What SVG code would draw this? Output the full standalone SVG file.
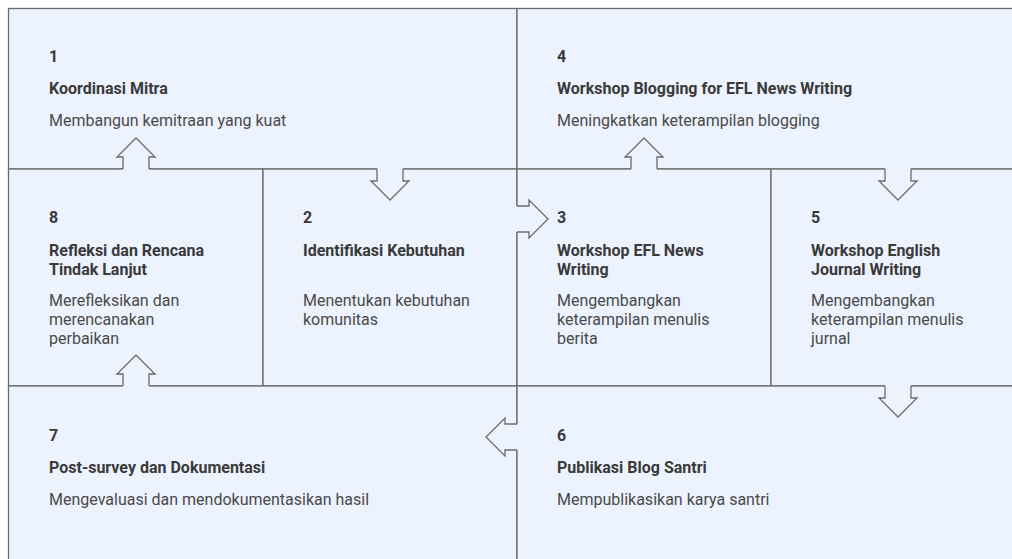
<svg xmlns="http://www.w3.org/2000/svg" width="1012" height="559" viewBox="0 0 1012 559">
<style>
.cell{fill:#ecf2fe;stroke:#6b6b6b;stroke-width:1.3}
.num{font-family:Roboto,"Liberation Sans",sans-serif;font-size:16px;font-weight:700;fill:#3a3a3a}
.ttl{font-family:Roboto,"Liberation Sans",sans-serif;font-size:16px;font-weight:700;fill:#3a3a3a}
.dsc{font-family:Roboto,"Liberation Sans",sans-serif;font-size:16px;font-weight:400;fill:#4a4a4a}
.afill{fill:#ecf2fe;stroke:none}
.aline{fill:none;stroke:#6b6b6b;stroke-width:1.3;stroke-linejoin:miter}
</style>
<rect x="0" y="0" width="1012" height="559" fill="#ffffff"/>
<g id="node1">
<rect class="cell" x="8.5" y="8.5" width="508.5" height="160.5"/>
<text class="num" x="49" y="62">1</text>
<text class="ttl" x="49" y="94">Koordinasi Mitra</text>
<text class="dsc" x="49" y="126">Membangun kemitraan yang kuat</text>
</g>
<g id="node4">
<rect class="cell" x="517" y="8.5" width="520" height="160.5"/>
<text class="num" x="557" y="62">4</text>
<text class="ttl" x="557" y="94">Workshop Blogging for EFL News Writing</text>
<text class="dsc" x="557" y="126">Meningkatkan keterampilan blogging</text>
</g>
<g id="node8">
<rect class="cell" x="8.5" y="169" width="254.5" height="217"/>
<text class="num" x="49" y="223">8</text>
<text class="ttl" x="49" y="256">Refleksi dan Rencana</text>
<text class="ttl" x="49" y="275">Tindak Lanjut</text>
<text class="dsc" x="49" y="306">Merefleksikan dan</text>
<text class="dsc" x="49" y="325">merencanakan</text>
<text class="dsc" x="49" y="344">perbaikan</text>
</g>
<g id="node2">
<rect class="cell" x="263" y="169" width="254" height="217"/>
<text class="num" x="303" y="223">2</text>
<text class="ttl" x="303" y="256">Identifikasi Kebutuhan</text>
<text class="dsc" x="303" y="306">Menentukan kebutuhan</text>
<text class="dsc" x="303" y="325">komunitas</text>
</g>
<g id="node3">
<rect class="cell" x="517" y="169" width="254" height="217"/>
<text class="num" x="557" y="223">3</text>
<text class="ttl" x="557" y="256">Workshop EFL News</text>
<text class="ttl" x="557" y="275">Writing</text>
<text class="dsc" x="557" y="306">Mengembangkan</text>
<text class="dsc" x="557" y="325">keterampilan menulis</text>
<text class="dsc" x="557" y="344">berita</text>
</g>
<g id="node5">
<rect class="cell" x="771" y="169" width="266" height="217"/>
<text class="num" x="811" y="223">5</text>
<text class="ttl" x="811" y="256">Workshop English</text>
<text class="ttl" x="811" y="275">Journal Writing</text>
<text class="dsc" x="811" y="306">Mengembangkan</text>
<text class="dsc" x="811" y="325">keterampilan menulis</text>
<text class="dsc" x="811" y="344">jurnal</text>
</g>
<g id="node7">
<rect class="cell" x="8.5" y="386" width="508.5" height="190"/>
<text class="num" x="49" y="441">7</text>
<text class="ttl" x="49" y="473">Post-survey dan Dokumentasi</text>
<text class="dsc" x="49" y="505">Mengevaluasi dan mendokumentasikan hasil</text>
</g>
<g id="node6">
<rect class="cell" x="517" y="386" width="520" height="190"/>
<text class="num" x="557" y="441">6</text>
<text class="ttl" x="557" y="473">Publikasi Blog Santri</text>
<text class="dsc" x="557" y="505">Mempublikasikan karya santri</text>
</g>
<g id="connectors">
<!-- 8 -> 1 up -->
<polygon class="afill" points="123,171 123,157 117,157 136,138 155,157 149,157 149,171"/>
<polyline class="aline" points="123,169 123,157 117,157 136,138 155,157 149,157 149,169"/>
<!-- 1 -> 2 down -->
<polygon class="afill" points="377,167 377,181 371,181 390,200 409,181 403,181 403,167"/>
<polyline class="aline" points="377,169 377,181 371,181 390,200 409,181 403,181 403,169"/>
<!-- 2 -> 3 right -->
<polygon class="afill" points="515,206 529,206 529,200 548,219 529,238 529,232 515,232"/>
<polyline class="aline" points="517,206 529,206 529,200 548,219 529,238 529,232 517,232"/>
<!-- 3 -> 4 up -->
<polygon class="afill" points="631,171 631,157 625,157 644,138 663,157 657,157 657,171"/>
<polyline class="aline" points="631,169 631,157 625,157 644,138 663,157 657,157 657,169"/>
<!-- 4 -> 5 down -->
<polygon class="afill" points="885,167 885,181 879,181 898,200 917,181 911,181 911,167"/>
<polyline class="aline" points="885,169 885,181 879,181 898,200 917,181 911,181 911,169"/>
<!-- 5 -> 6 down -->
<polygon class="afill" points="885,384 885,398 879,398 898,417 917,398 911,398 911,384"/>
<polyline class="aline" points="885,386 885,398 879,398 898,417 917,398 911,398 911,386"/>
<!-- 6 -> 7 left -->
<polygon class="afill" points="519,424 505,424 505,418 486,437 505,456 505,450 519,450"/>
<polyline class="aline" points="517,424 505,424 505,418 486,437 505,456 505,450 517,450"/>
<!-- 7 -> 8 up -->
<polygon class="afill" points="123,388 123,374 117,374 136,355 155,374 149,374 149,388"/>
<polyline class="aline" points="123,386 123,374 117,374 136,355 155,374 149,374 149,386"/>
</g>
</svg>
